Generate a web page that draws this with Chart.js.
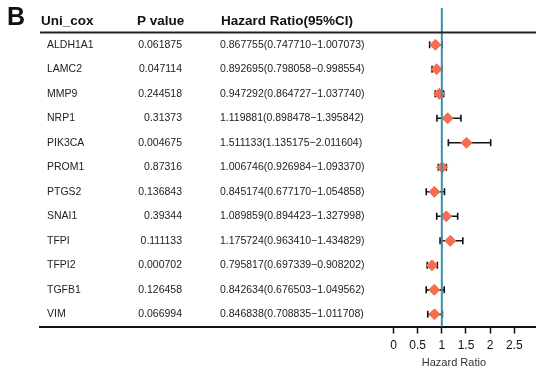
<!DOCTYPE html>
<html>
<head>
<meta charset="utf-8">
<script src="https://cdn.jsdelivr.net/npm/chart.js@4"></script>
<style>
  html, body { margin: 0; padding: 0; background: #fff; overflow: hidden; }
  canvas { display: block; }
</style>
</head>
<body>
<canvas id="c" width="536" height="368"></canvas>
<script>
const genes = ['ALDH1A1', 'LAMC2', 'MMP9', 'NRP1', 'PIK3CA', 'PROM1', 'PTGS2', 'SNAI1', 'TFPI', 'TFPI2', 'TGFB1', 'VIM'];
const pValues = ['0.061875', '0.047114', '0.244518', '0.31373', '0.004675', '0.87316', '0.136843', '0.39344', '0.111133', '0.000702', '0.126458', '0.066994'];
const hr = [0.867755, 0.892695, 0.947292, 1.119881, 1.511133, 1.006746, 0.845174, 1.089859, 1.175724, 0.795817, 0.842634, 0.846838];
const lower = [0.747710, 0.798058, 0.864727, 0.898478, 1.135175, 0.926984, 0.677170, 0.894423, 0.963410, 0.697339, 0.676503, 0.708835];
const upper = [1.007073, 0.998554, 1.037740, 1.395842, 2.011604, 1.093370, 1.054858, 1.327998, 1.434829, 0.908202, 1.049562, 1.011708];
const xTicks = [0, 0.5, 1, 1.5, 2, 2.5];

const font = '"Liberation Sans", Arial, sans-serif';

const ciText = hr.map((h, i) =>
  h.toFixed(6) + '(' + lower[i].toFixed(6) + '\u2212' + upper[i].toFixed(6) + ')');

const forestPlugin = {
  id: 'forest',
  beforeDatasetsDraw(chart) {
    const ctx = chart.ctx;
    const x = chart.scales.x, y = chart.scales.y;
    ctx.save();
    ctx.strokeStyle = '#111';
    ctx.lineWidth = 1.6;
    genes.forEach((g, i) => {
      const py = y.getPixelForValue(i);
      const x0 = x.getPixelForValue(lower[i]);
      const x1 = x.getPixelForValue(upper[i]);
      ctx.beginPath();
      ctx.moveTo(x0, py); ctx.lineTo(x1, py);
      ctx.moveTo(x0, py - 3.5); ctx.lineTo(x0, py + 3.5);
      ctx.moveTo(x1, py - 3.5); ctx.lineTo(x1, py + 3.5);
      ctx.stroke();
    });
    ctx.restore();
  },
  afterDatasetsDraw(chart) {
    const ctx = chart.ctx;
    const x = chart.scales.x, y = chart.scales.y;
    const area = chart.chartArea;
    ctx.save();
    // reference line at HR = 1
    ctx.strokeStyle = '#3b8ea5';
    ctx.lineWidth = 2;
    const px1 = x.getPixelForValue(1);
    ctx.beginPath();
    ctx.moveTo(px1, area.top); ctx.lineTo(px1, area.bottom);
    ctx.stroke();

    // header rule
    ctx.strokeStyle = '#222';
    ctx.lineWidth = 2;
    const hy = y.getPixelForValue(-0.5);
    ctx.beginPath();
    ctx.moveTo(area.left, hy); ctx.lineTo(area.right, hy);
    ctx.stroke();

    // header
    ctx.fillStyle = '#111';
    ctx.textBaseline = 'middle';
    ctx.font = 'bold 13.5px ' + font;
    const hty = y.getPixelForValue(-1) + 1;
    ctx.textAlign = 'left';
    ctx.fillText('Uni_cox', 41, hty);
    ctx.fillText('P value', 137, hty);
    ctx.fillText('Hazard Ratio(95%CI)', 221, hty);

    ctx.textBaseline = 'alphabetic';
    ctx.font = 'bold 25px ' + font;
    ctx.fillText('B', 7, 25);
    ctx.textBaseline = 'middle';

    // rows
    ctx.font = '10.5px ' + font;
    ctx.fillStyle = '#222';
    genes.forEach((g, i) => {
      const py = y.getPixelForValue(i);
      ctx.textAlign = 'left';
      ctx.fillText(g, 47, py);
      ctx.textAlign = 'right';
      ctx.fillText(pValues[i], 182, py);
      ctx.textAlign = 'left';
      ctx.fillText(ciText[i], 220, py);
    });

    // axis title centred under the ticks
    ctx.font = '11px ' + font;
    ctx.fillStyle = '#333';
    ctx.textAlign = 'center';
    const tc = (x.getPixelForValue(xTicks[0]) + x.getPixelForValue(xTicks[xTicks.length - 1])) / 2;
    ctx.fillText('Hazard Ratio', tc, 363);
    ctx.restore();
  }
};

new Chart(document.getElementById('c'), {
  type: 'scatter',
  data: {
    datasets: [{
      data: hr.map((h, i) => ({ x: h, y: i })),
      pointStyle: 'rectRot',
      pointRadius: 5.5,
      pointHoverRadius: 5.5,
      backgroundColor: '#f56e4e',
      borderColor: '#f56e4e',
      borderWidth: 1
    }]
  },
  options: {
    responsive: false,
    animation: false,
    layout: { autoPadding: false, padding: { left: 40, top: 8, right: 0, bottom: 10 } },
    plugins: { legend: { display: false }, tooltip: { enabled: false } },
    scales: {
      x: {
        type: 'linear',
        min: -7.32,
        max: 2.95,
        afterBuildTicks: (scale) => { scale.ticks = xTicks.map(v => ({ value: v })); },
        afterFit: (scale) => { scale.paddingLeft = 0; scale.paddingRight = 0; },
        grid: { drawOnChartArea: false, tickLength: 7, tickColor: '#111', tickWidth: 1.5 },
        border: { display: true, color: '#111', width: 2 },
        ticks: {
          color: '#111',
          font: { family: font, size: 12 },
          padding: 5,
          maxRotation: 0,
          autoSkip: false,
          callback: (v) => String(v)
        }
      },
      y: {
        type: 'linear',
        display: false,
        reverse: true,
        min: -1.5,
        max: 11.5
      }
    }
  },
  plugins: [forestPlugin]
});
</script>
</body>
</html>
